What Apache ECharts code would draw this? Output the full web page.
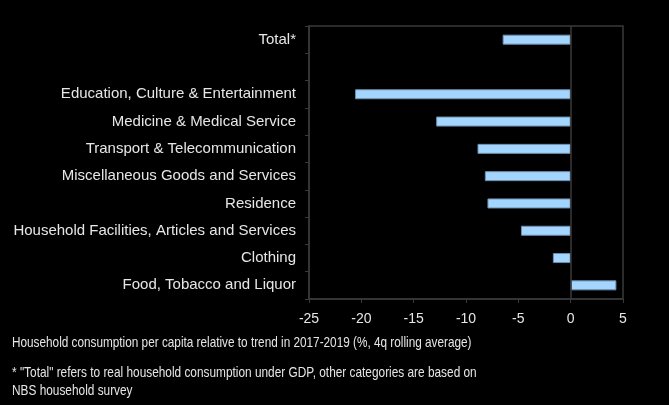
<!DOCTYPE html>
<html><head><meta charset="utf-8">
<script src="https://cdn.jsdelivr.net/npm/echarts@6/dist/echarts.min.js"></script>
<style>html,body{margin:0;padding:0;background:#000;}#c{width:669px;height:405px;}</style>
</head><body><div id="c"></div>
<script>
const categories = ['Total*', '', 'Education, Culture & Entertainment', 'Medicine & Medical Service', 'Transport & Telecommunication', 'Miscellaneous Goods and Services', 'Residence', 'Household Facilities, Articles and Services', 'Clothing', 'Food, Tobacco and Liquor'];
const values = [-6.5, '-', -20.6, -12.85, -8.9, -8.2, -7.95, -4.75, -1.7, 4.37];
const xTicks = {min: -25, max: 5, interval: 5};
const axisTitle = 'Household consumption per capita relative to trend in 2017-2019 (%, 4q rolling average)';
const footnote = ['* "Total" refers to real household consumption under GDP, other categories are based on', 'NBS household survey'];

const chart = echarts.init(document.getElementById('c'));
const txt = '#e6e6e6';
const font = 'Liberation Sans, Arial, sans-serif';
chart.setOption({
  backgroundColor: '#000',
  animation: false,
  grid: {left: 309, right: 46, top: 26, bottom: 106, show: true, borderColor: '#3a3a3a', borderWidth: 1.5},
  xAxis: {
    type: 'value', min: xTicks.min, max: xTicks.max, interval: xTicks.interval,
    axisLine: {show: true, lineStyle: {color: '#3a3a3a', width: 1.5}},
    axisTick: {show: true, length: 4, lineStyle: {color: '#3a3a3a'}},
    splitLine: {show: false},
    axisLabel: {color: txt, fontSize: 14, fontFamily: font, margin: 13}
  },
  yAxis: {
    type: 'category', data: categories, inverse: true,
    axisLine: {show: true, onZero: false, lineStyle: {color: '#3a3a3a', width: 1.5}},
    axisTick: {show: true, length: 4, alignWithLabel: false, lineStyle: {color: '#3a3a3a'}},
    axisLabel: {color: txt, fontSize: 15, fontFamily: font, margin: 13}
  },
  series: [{
    type: 'bar', data: values, barWidth: 10,
    itemStyle: {color: '#a3d5ff', borderColor: '#6d8fae', borderWidth: 1},
    markLine: {silent: true, symbol: 'none', label: {show: false},
      lineStyle: {color: '#3a3a3a', type: 'solid', width: 1.5},
      data: [{xAxis: 0}]}
  }],
  graphic: [
    {type: 'text', x: 12, y: 335, scaleX: 0.785, style: {text: axisTitle, fill: txt, font: '15px ' + font}},
    {type: 'text', x: 12, y: 364, scaleX: 0.79, style: {text: footnote.join('\n'), fill: txt, font: '15px ' + font, lineHeight: 18}}
  ]
});
</script></body></html>
